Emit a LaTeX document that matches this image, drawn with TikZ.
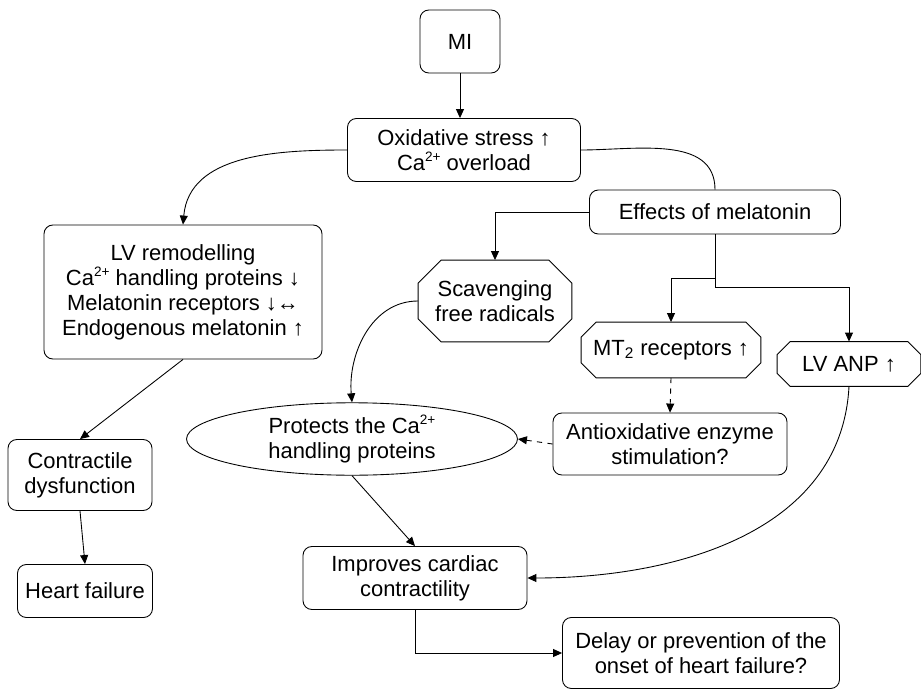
\documentclass[tikz,border=0pt]{standalone}
\usepackage{fontspec}
\setmainfont{Liberation Sans}
\usetikzlibrary{ % tikz packages
    positioning,shapes.geometric,
    arrows.meta
}
\tikzset{
    box/.style={draw, rounded corners=5pt, align=center,
        inner sep=2pt, font=\fontsize{12.5}{14.2}\selectfont},
    octo/.style={align=center,
        inner sep=2pt, font=\fontsize{12.5}{14.2}\selectfont},
    oval/.style={draw, ellipse, align=center,
        inner sep=1pt, font=\fontsize{12.5}{14.2}\selectfont},
    arr/.style={-{Triangle[length=1.8mm,width=1.6mm]}}
}
% small raised charge
\newcommand\charge[1]{\raisebox{0.75ex}{\scalebox{0.62}{#1}}}
% outline with cut corners round a named node
\newcommand\octoline[2]{%
    \draw ([xshift=#2]#1.north west) -- ([xshift=-#2]#1.north east)
        -- ([yshift=-#2]#1.north east) -- ([yshift=#2]#1.south east)
        -- ([xshift=-#2]#1.south east) -- ([xshift=#2]#1.south west)
        -- ([yshift=#2]#1.south west) -- ([yshift=-#2]#1.north west) -- cycle;}

\begin{document}
\begin{tikzpicture}[x=0.02cm,y=-0.02cm,line width=0.5pt]
    \useasboundingbox (0,0) rectangle (921,690);

    % top
    \node[box, minimum width=1.6cm, minimum height=1.26cm] (mi) at (460,41.5) {MI};
    \node[box, minimum width=4.66cm, minimum height=1.26cm] (oxid) at (464,150)
        {Oxidative stress ↑\\Ca\charge{2+} overload};
    \node[box, minimum width=5.02cm, minimum height=0.88cm] (effects) at (715,212)
        {Effects of melatonin};

    % left branch
    \node[box, minimum width=5.56cm, minimum height=2.68cm] (lvrem) at (183,292)
        {LV remodelling\\Ca\charge{2+} handling proteins ↓\\Melatonin receptors ↓↔\\Endogenous melatonin ↑};
    \node[box, minimum width=2.88cm, minimum height=1.42cm] (contr) at (80,475)
        {Contractile\\dysfunction};
    \node[box, minimum width=2.7cm, minimum height=1.06cm] (hf) at (85,591)
        {Heart failure};

    % melatonin branch
    \node[octo, minimum width=3.06cm, minimum height=1.62cm] (scav) at (495,301)
        {Scavenging\\free radicals};
    \octoline{scav}{0.46cm}
    \node[octo, minimum width=3.58cm, minimum height=1.1cm] (mtrec) at (671,350)
        {MT\textsubscript{2} receptors ↑};
    \octoline{mtrec}{0.3cm}
    \node[octo, minimum width=2.86cm, minimum height=0.88cm] (lvanp) at (849,364)
        {LV ANP ↑};
    \octoline{lvanp}{0.26cm}
    \node[box, minimum width=4.68cm, minimum height=1.24cm] (antiox) at (670,444)
        {Antioxidative enzyme\\stimulation?};
    \node[oval, minimum width=6.62cm, minimum height=1.44cm] (protect) at (352,439)
        {Protects the Ca\charge{2+}\\handling proteins};
    \node[box, minimum width=4.48cm, minimum height=1.26cm] (improves) at (415,578)
        {Improves cardiac\\contractility};
    \node[box, minimum width=5.54cm, minimum height=1.42cm] (delay) at (701,653)
        {Delay or prevention of the\\onset of heart failure?};

    % connectors
    \path[arr]
        (mi.south)
            edge (mi.south |- oxid.north)
        (oxid.west)
            edge[out=180,in=85] (lvrem.north)
        (lvrem.south)
            edge (contr.north)
        (contr.south)
            edge (hf.north)
        (scav.west)
            edge[out=180,in=95] (protect.north)
        (protect.south)
            edge (improves.north)
        (lvanp.south)
            edge[out=-93,in=0] (improves.east);
    \draw (oxid.east) to[out=0,in=90] (effects.north);
    \draw[arr] (effects.west) -| (scav.north);
    \draw[arr] (effects.south) -- ++(0,44) -| (mtrec.north);
    \draw[arr] (effects.south) -- ++(0,53) -| (lvanp.north);
    \draw[arr,dashed] (mtrec.south) -- (antiox.north);
    \draw[arr,dashed] (antiox.west) -- (protect.east);
    \draw[arr] (improves.south) |- (delay.west);
\end{tikzpicture}
\end{document}
